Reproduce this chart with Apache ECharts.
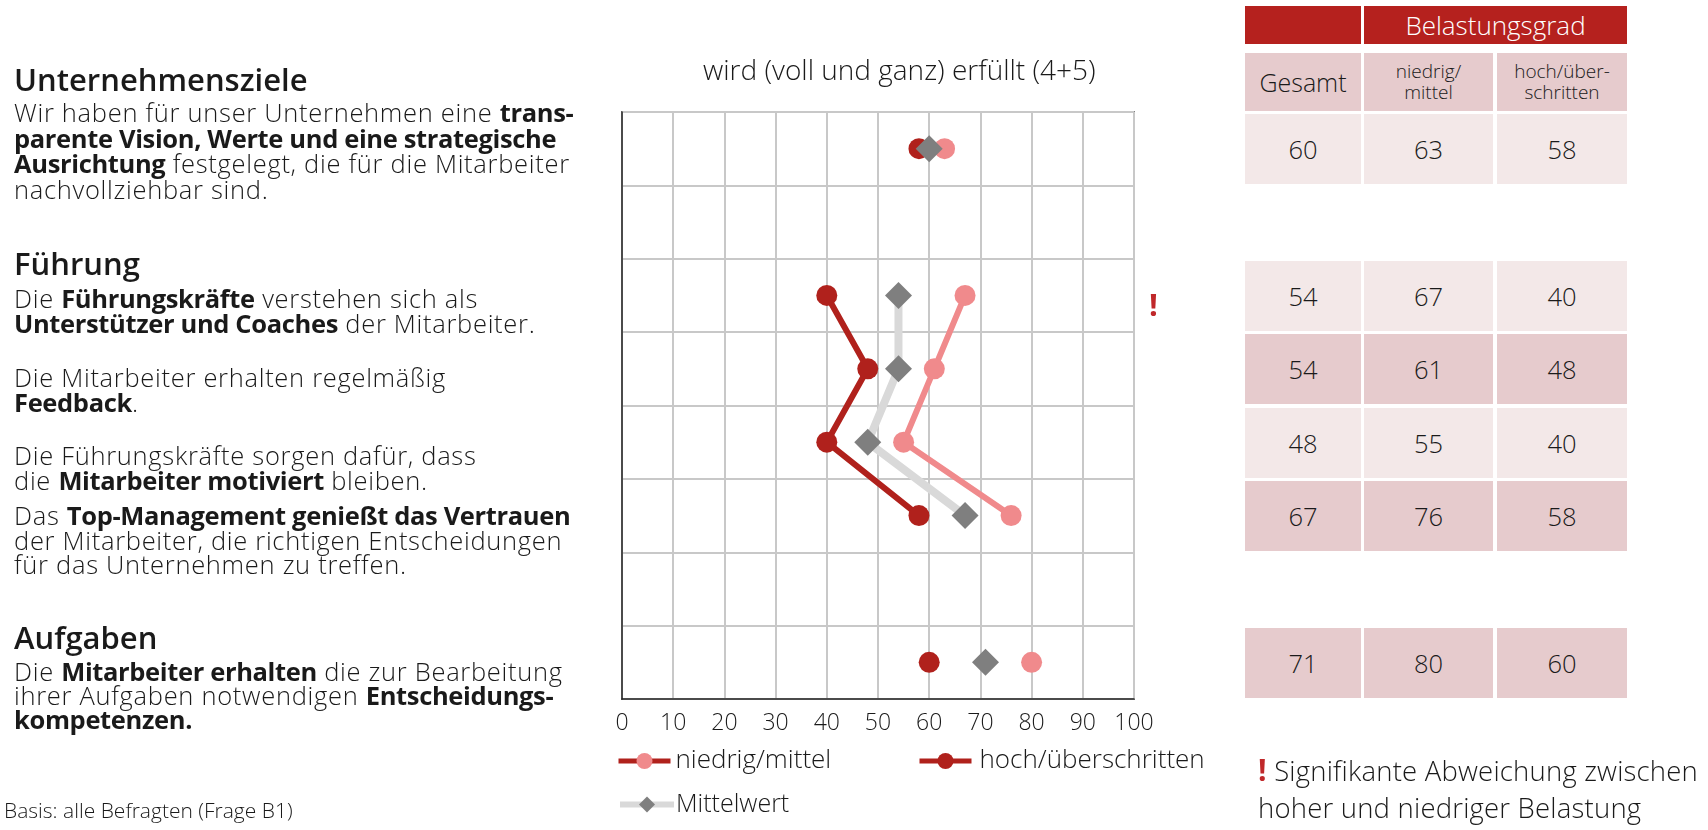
<!DOCTYPE html>
<html>
<head>
<meta charset="utf-8">
<script src="https://cdn.jsdelivr.net/npm/echarts@6/dist/echarts.min.js"></script>
<style>
  body { margin: 0; background: #fff; font-family: "Open Sans", sans-serif; color: #1a1a1a; }
  #main { position: absolute; left: 0; top: 0; width: 1708px; height: 830px; }
  .txt { position: absolute; left: 14px; font-size: 25.5px; line-height: 24.5px; font-weight: 300; white-space: nowrap; letter-spacing: 0.7px; }
  .txt b { font-weight: 700; letter-spacing: -0.35px; }
  .head { position: absolute; left: 14px; font-size: 31px; line-height: 32px; font-weight: 600; }
  .cell { position: absolute; display: flex; align-items: center; justify-content: center; text-align: center; font-weight: 300; }
  .abs { position: absolute; white-space: nowrap; }
</style>
</head>
<body>
<div id="main"></div>
<div id="overlay"></div>
<script>
// rows of the chart, top to bottom; the two gaps stay empty
const categories = ["Unternehmensziele", "Lücke 1", "Unterstützer und Coaches", "Feedback",
  "Mitarbeiter motiviert", "Vertrauen Top-Management", "Lücke 2", "Entscheidungskompetenzen"];
const niedrigMittel = [63, null, 67, 61, 55, 76, null, 80];
const hochUeberschritten = [58, null, 40, 48, 40, 58, null, 60];
const mittelwert = [60, null, 54, 54, 48, 67, null, 71];
const xTicks = [0, 10, 20, 30, 40, 50, 60, 70, 80, 90, 100];

const RED = "#b0211c", PINK = "#f08a8c", GREY_LINE = "#d9d9d9", GREY_MARK = "#7f7f7f";

// left hand texts
const overlay = document.getElementById("overlay");
function add(cls, top, html, extra) {
  const d = document.createElement("div");
  d.className = cls;
  d.style.top = top + "px";
  d.innerHTML = html;
  if (extra) Object.assign(d.style, extra);
  overlay.appendChild(d);
  return d;
}
add("head", 63, "Unternehmensziele");
add("txt", 100, "Wir haben für unser Unternehmen eine <b>trans-</b><br><b>parente Vision, Werte und eine strategische</b><br><b>Ausrichtung</b> festgelegt, die für die Mitarbeiter<br>nachvollziehbar sind.", {lineHeight: "25.5px"});
add("head", 247, "Führung");
add("txt", 286, "Die <b>Führungskräfte</b> verstehen sich als<br><b>Unterstützer und Coaches</b> der Mitarbeiter.");
add("txt", 365, "Die Mitarbeiter erhalten regelmäßig<br><b>Feedback</b>.");
add("txt", 443, "Die Führungskräfte sorgen dafür, dass<br>die <b>Mitarbeiter motiviert</b> bleiben.");
add("txt", 503, "Das <b>Top-Management genießt das Vertrauen</b><br>der Mitarbeiter, die richtigen Entscheidungen<br>für das Unternehmen zu treffen.");
add("head", 621, "Aufgaben");
add("txt", 659, "Die <b>Mitarbeiter erhalten</b> die zur Bearbeitung<br>ihrer Aufgaben notwendigen <b>Entscheidungs-</b><br><b>kompetenzen.</b>", {lineHeight: "24px"});
add("abs", 796, "Basis: alle Befragten (Frage B1)", {left: "4px", fontSize: "21px", fontWeight: 300});

// significance marks
add("abs", 283, "!", {left: "1149px", fontSize: "31px", fontWeight: 700, color: "#c0282a"});
add("abs", 751, '<span style="color:#c0282a;font-weight:700;font-size:30px">!</span> Signifikante Abweichung zwischen<br>hoher und niedriger Belastung',
  {left: "1258px", fontSize: "27.5px", lineHeight: "37px", fontWeight: 300, letterSpacing: "0.2px"});

// table on the right
const colX = [[1245, 1361], [1364, 1493], [1497, 1627]];
const rowY = [[114, 184], null, [261, 331], [334, 404], [408, 478], [481, 551], null, [628, 698]];
const rowDark = [false, null, false, true, false, true, null, true];
function cell(x0, x1, y0, y1, bg, html, fs, color) {
  add("cell", y0, html, {left: x0 + "px", width: (x1 - x0) + "px", height: (y1 - y0) + "px",
    background: bg, fontSize: fs + "px", lineHeight: "21px", color: color || "#1a1a1a"});
}
cell(1245, 1361, 6, 44, "#b5211e", "", 20);
cell(1364, 1627, 6, 44, "#b5211e", "Belastungsgrad", 26, "#fff");
cell(1245, 1361, 53, 111, "#e6cbcd", "Gesamt", 25);
cell(1364, 1493, 53, 111, "#e6cbcd", "niedrig/<br>mittel", 19);
cell(1497, 1627, 53, 111, "#e6cbcd", "hoch/über-<br>schritten", 19);
for (let i = 0; i < categories.length; i++) {
  if (mittelwert[i] == null) continue;
  const bg = rowDark[i] ? "#e6cbcd" : "#f3e8e8";
  const vals = [mittelwert[i], niedrigMittel[i], hochUeberschritten[i]];
  for (let c = 0; c < 3; c++) {
    cell(colX[c][0], colX[c][1], rowY[i][0], rowY[i][1], bg, String(vals[c]), 25.5);
  }
}

const legendText = {fontSize: 26, fontWeight: 300, color: "#1a1a1a", padding: [0, 0, 0, 0]};
const chart = echarts.init(document.getElementById("main"));
chart.setOption({
  animation: false,
  textStyle: {fontFamily: "Open Sans"},
  title: {
    text: "wird (voll und ganz) erfüllt (4+5)",
    left: 698, top: 53,
    textStyle: {fontSize: 28, fontWeight: 300, color: "#1a1a1a"}
  },
  legend: [
    {data: [{name: "niedrig/mittel", itemStyle: {color: PINK}, lineStyle: {color: RED, width: 5}}],
      left: 611, top: 743, itemWidth: 52, itemHeight: 20, textStyle: legendText},
    {data: [{name: "hoch/überschritten", lineStyle: {width: 5}}], left: 912, top: 743, itemWidth: 52, itemHeight: 20,
      textStyle: Object.assign({}, legendText, {padding: [0, 0, 0, 3]})},
    {data: [{name: "Mittelwert", lineStyle: {width: 6}}], left: 612, top: 787, itemWidth: 54, itemHeight: 20,
      textStyle: Object.assign({}, legendText, {fontSize: 25, padding: [0, 0, 0, -3]})}
  ],
  grid: {left: 622, top: 112, width: 512, height: 587, show: true, borderColor: "#222", borderWidth: 1.5, containLabel: false},
  xAxis: {
    type: "value", min: xTicks[0], max: xTicks[xTicks.length - 1], interval: 10,
    axisLine: {show: true, lineStyle: {color: "#222", width: 1.5}},
    axisTick: {show: false},
    axisLabel: {fontSize: 23, fontWeight: 300, color: "#1a1a1a", margin: 13},
    splitLine: {lineStyle: {color: "#c8c8c8", width: 2}}
  },
  yAxis: {
    type: "category", data: categories, inverse: true,
    axisLine: {show: true, lineStyle: {color: "#222", width: 1.5}},
    axisTick: {show: false}, axisLabel: {show: false},
    splitLine: {show: true, lineStyle: {color: "#c8c8c8", width: 2}}
  },
  series: [
    {name: "niedrig/mittel", type: "line", data: niedrigMittel, connectNulls: false,
      symbol: "circle", symbolSize: 21, itemStyle: {color: PINK}, lineStyle: {color: PINK, width: 6}, z: 3},
    {name: "hoch/überschritten", type: "line", data: hochUeberschritten, connectNulls: false,
      symbol: "circle", symbolSize: 21, itemStyle: {color: RED}, lineStyle: {color: RED, width: 6}, z: 3},
    {name: "Mittelwert", type: "line", data: mittelwert, connectNulls: false,
      symbol: "diamond", symbolSize: [27, 27], itemStyle: {color: GREY_MARK}, lineStyle: {color: GREY_LINE, width: 8}, z: 4}
  ]
});
</script>
</body>
</html>
